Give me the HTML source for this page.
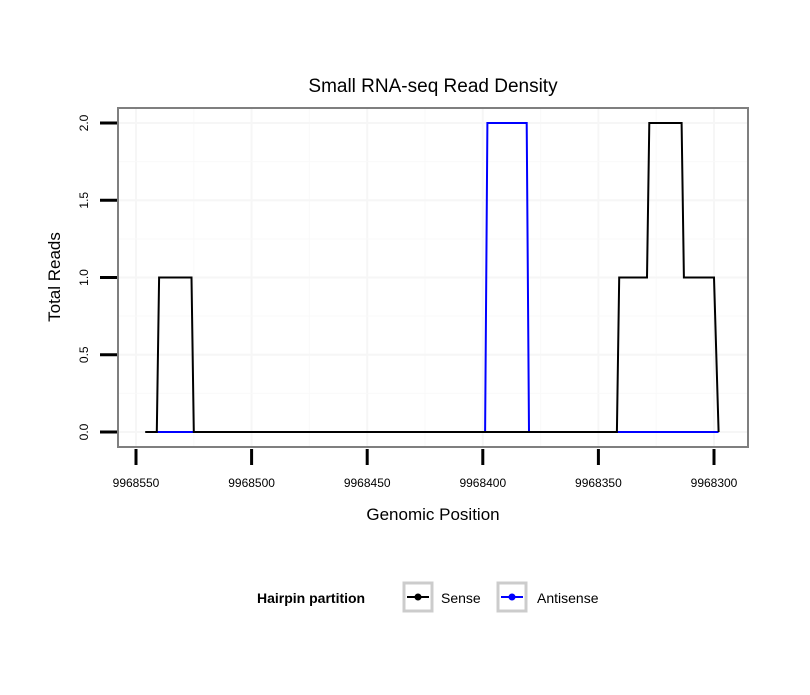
<!DOCTYPE html>
<html><head><meta charset="utf-8"><style>
body{margin:0;background:#fff}
svg text{font-family:"Liberation Sans",sans-serif}
</style></head><body>
<svg id="chart" width="810" height="690" xmlns="http://www.w3.org/2000/svg"></svg>
<script>
const xTicks=[9968550,9968500,9968450,9968400,9968350,9968300];
const yTicks=[0,0.5,1,1.5,2];
const senseX=[9968546,9968541,9968540,9968526,9968525,9968342,9968341,9968329,9968328,9968314,9968313,9968300,9968298];
const senseY=[0,0,1,1,0,0,1,1,2,2,1,1,0];
const antiX=[9968541,9968399,9968398,9968381,9968380,9968298];
const antiY=[0,0,2,2,0,0];
const NS="http://www.w3.org/2000/svg";
const svg=document.getElementById('chart');
const X=p=>136+(9968550-p)*(578/250);
const Y=v=>432-v*154.5;
function mk(t,a,p){const e=document.createElementNS(NS,t);for(const k in a)e.setAttribute(k,a[k]);(p||svg).appendChild(e);return e;}
const panel=mk('rect',{x:118,y:108,width:630,height:339,fill:'#fff'});


for(let i=0;i<xTicks.length;i++){
  const gx=X(xTicks[i]);
  const g=mk('line',{x1:gx,x2:gx,y1:108,y2:447,stroke:'#f6f6f6','stroke-width':2});
  
  
  if(i<xTicks.length-1){const mx=X((xTicks[i]+xTicks[i+1])/2);
    const m=mk('line',{x1:mx,x2:mx,y1:108,y2:447,stroke:'#f9f9f9','stroke-width':1});
    
    }
}
for(let i=0;i<yTicks.length;i++){
  const gy=Y(yTicks[i]);
  const g=mk('line',{x1:118,x2:748,y1:gy,y2:gy,stroke:'#f6f6f6','stroke-width':2});
  
  
  if(i<yTicks.length-1){const my=Y((yTicks[i]+yTicks[i+1])/2);
    const m=mk('line',{x1:118,x2:748,y1:my,y2:my,stroke:'#f9f9f9','stroke-width':1});
    
    }
}
function line(xs,ys,color,name){
  const pts=xs.map((x,i)=>X(x).toFixed(1)+','+Y(ys[i]).toFixed(1)).join(' ');
  const l=mk('polyline',{points:pts,fill:'none',stroke:color,'stroke-width':2});
  
  
}
line(antiX,antiY,'#0000ff','antisense-line');
line(senseX,senseY,'#000','sense-line');
const border=mk('rect',{x:118,y:108,width:630,height:339,fill:'none',stroke:'#7f7f7f','stroke-width':2});


xTicks.forEach(t=>{
  const tx=X(t);
  const tk=mk('line',{x1:tx,x2:tx,y1:449,y2:465,stroke:'#000','stroke-width':3});
  
  
  const lb=mk('text',{x:tx,y:487,'text-anchor':'middle','font-size':12});
  lb.textContent=t;
  
  
});
yTicks.forEach(t=>{
  const ty=Y(t);
  const tk=mk('line',{x1:100,x2:117,y1:ty,y2:ty,stroke:'#000','stroke-width':3});
  
  
  const lb=mk('text',{x:88,y:ty,'text-anchor':'middle','font-size':12,transform:`rotate(-90 88 ${ty})`});
  lb.textContent=t.toFixed(1);
  
  
});
</script>
<svg width="810" height="690" style="position:absolute;left:0;top:0" xmlns="http://www.w3.org/2000/svg">
<text x="433" y="92" text-anchor="middle" font-size="19" font-family="Liberation Sans">Small RNA-seq Read Density</text>
<text x="433" y="520" text-anchor="middle" font-size="17" font-family="Liberation Sans">Genomic Position</text>
<text x="60" y="277" text-anchor="middle" font-size="17" font-family="Liberation Sans" transform="rotate(-90 60 277)">Total Reads</text>
<g font-family="Liberation Sans">
<text x="257" y="603" font-size="14" font-weight="bold">Hairpin partition</text>
<g>
<rect x="404" y="583" width="28" height="28" fill="#fff" stroke="#ccc" stroke-width="3"/>
<line x1="407" x2="429" y1="597" y2="597" stroke="#000" stroke-width="2"/>
<circle cx="418" cy="597" r="3.5" fill="#000"/>
<text x="441" y="603" font-size="14">Sense</text>
</g>
<g>
<rect x="498" y="583" width="28" height="28" fill="#fff" stroke="#ccc" stroke-width="3"/>
<line x1="501" x2="523" y1="597" y2="597" stroke="#00f" stroke-width="2"/>
<circle cx="512" cy="597" r="3.5" fill="#00f"/>
<text x="537" y="603" font-size="14">Antisense</text>
</g>
</g>
</svg>
</body></html>
